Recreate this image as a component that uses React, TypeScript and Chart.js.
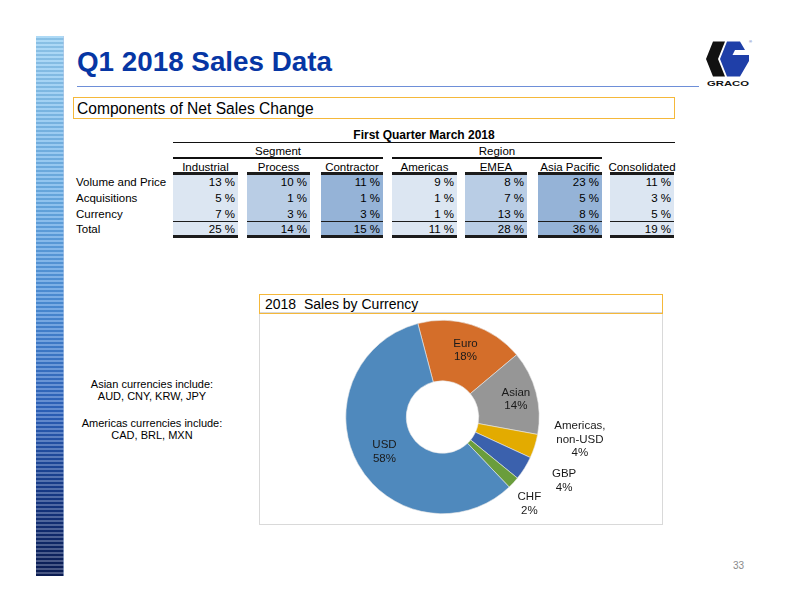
import React, { useEffect, useRef } from "react";
import { Chart, registerables } from "chart.js";

Chart.register(...registerables);

// ---------- Data ----------
const tableTitle = "First Quarter March 2018";
const groupLabels = ["Segment", "Region"];
const columnLabels = ["Industrial", "Process", "Contractor", "Americas", "EMEA", "Asia Pacific", "Consolidated"];
const rowLabels = ["Volume and Price", "Acquisitions", "Currency", "Total"];
const industrial = [13, 5, 7, 25];
const processVals = [10, 1, 3, 14];
const contractor = [11, 1, 3, 15];
const americas = [9, 1, 1, 11];
const emea = [8, 7, 13, 28];
const asiaPacific = [23, 5, 8, 36];
const consolidated = [11, 3, 5, 19];
const tableColumns = [industrial, processVals, contractor, americas, emea, asiaPacific, consolidated];

const currencies = ["Euro", "Asian", "Americas, non-USD", "GBP", "CHF", "USD"];
const currencyLines = [["Euro"], ["Asian"], ["Americas,", "non-USD"], ["GBP"], ["CHF"], ["USD"]];
const currencyShare = [18, 14, 4, 4, 2, 58];

const notes = [
  ["Asian currencies include:", "AUD, CNY, KRW, JPY"],
  ["Americas currencies include:", "CAD, BRL, MXN"],
];

// ---------- Layout / style ----------
const FONT = "'Liberation Sans', Arial, Helvetica, sans-serif";
const colX: [number, number][] = [
  [173, 238], [247, 310], [321, 383], [392, 457], [465, 527], [538, 602], [610, 674],
];
const shades = ["#dce6f2", "#b9cde5", "#95b3d7", "#dce6f2", "#b9cde5", "#95b3d7", "#dce6f2"];
const rowCenters = [181.5, 197.5, 214, 228.5];
const sliceColors = ["#d46e2a", "#969696", "#e3ab00", "#3b61ad", "#6a9d3c", "#4f89bd"];
// label placement: [angle offset in degrees, radius factor]
const labelPlacement: [number, number][] = [
  [1.4, 0.73], [1.3, 0.78], [-8.3, 1.44], [-4.3, 1.42], [2.2, 1.27], [-1.8, 0.7],
];

const Txt: React.FC<{
  x: number; y: number; w?: number; align?: "left" | "center" | "right";
  size?: number; bold?: boolean; color?: string; children: React.ReactNode; lh?: number;
}> = ({ x, y, w, align = "left", size = 11.5, bold, color = "#000", children, lh = 14 }) => (
  <div
    style={{
      position: "absolute",
      left: x,
      top: y - lh / 2,
      width: w,
      height: lh,
      lineHeight: lh + "px",
      fontSize: size,
      fontWeight: bold ? "bold" : "normal",
      color,
      textAlign: align,
      whiteSpace: "nowrap",
    }}
  >
    {children}
  </div>
);

const Line: React.FC<{ x1: number; x2: number; y: number; t: number; c?: string }> = ({ x1, x2, y, t, c = "#111" }) => (
  <div style={{ position: "absolute", left: x1, top: y - t / 2, width: x2 - x1, height: t, background: c }} />
);

const labelPlugin = {
  id: "sliceLabels",
  afterDatasetsDraw(chart: any) {
    const ctx = chart.ctx;
    const meta = chart.getDatasetMeta(0);
    ctx.save();
    ctx.font = `11.5px ${FONT}`;
    ctx.fillStyle = "#1a1a1a";
    ctx.textAlign = "center";
    ctx.textBaseline = "middle";
    meta.data.forEach((arc: any, i: number) => {
      const p = arc.getProps(["x", "y", "startAngle", "endAngle", "outerRadius"], true);
      const [dA, rf] = labelPlacement[i];
      const a = (p.startAngle + p.endAngle) / 2 + (dA * Math.PI) / 180;
      const r = p.outerRadius * rf;
      const cx = p.x + Math.cos(a) * r;
      const cy = p.y + Math.sin(a) * r;
      const lines = [...currencyLines[i], currencyShare[i] + "%"];
      const lh = 13.3;
      lines.forEach((ln, k) => {
        ctx.fillText(ln, cx, cy + (k - (lines.length - 1) / 2) * lh);
      });
    });
    ctx.restore();
  },
};

const Donut: React.FC = () => {
  const ref = useRef<HTMLCanvasElement>(null);
  useEffect(() => {
    if (!ref.current) return;
    const chart = new Chart(ref.current, {
      type: "doughnut",
      data: {
        labels: currencies,
        datasets: [
          {
            data: currencyShare,
            backgroundColor: sliceColors,
            borderColor: "#e8e8e8",
            borderWidth: 0.6,
          },
        ],
      },
      options: {
        responsive: false,
        animation: false,
        devicePixelRatio: 1,
        rotation: -14.8,
        cutout: "37.5%",
        layout: { padding: { left: 0, right: 36, top: 7, bottom: 10 } },
        plugins: { legend: { display: false }, tooltip: { enabled: false } },
      },
      plugins: [labelPlugin],
    });
    return () => chart.destroy();
  }, []);
  return (
    <canvas ref={ref} width={403} height={211} style={{ position: "absolute", left: 259, top: 313, width: 403, height: 211 }} />
  );
};

const Logo: React.FC = () => (
  <svg style={{ position: "absolute", left: 700, top: 36 }} width={60} height={56} viewBox="700 36 60 56">
    <polygon points="713,41.5 725,41.5 718,59 725,76.5 713,76.5 706,59" fill="#111" />
    <polygon points="727,41.5 740,41.5 745,50 735,50 732.5,55 749,55 749,61 740,76.5 727,76.5 720,59" fill="#1f3fa8" />
    <text x={749} y={43} fontSize={4} fill="#1f3fa8" fontFamily={FONT}>®</text>
    <text x={707} y={86} fontSize={7} fontWeight="bold" fill="#111" fontFamily={FONT} textLength={42} lengthAdjust="spacingAndGlyphs">GRACO</text>
  </svg>
);

export default function App() {
  return (
    <div style={{ position: "absolute", left: 0, top: 0, width: 792, height: 612, background: "#fff", fontFamily: FONT, overflow: "hidden" }}>
      {/* left stripe */}
      <div
        style={{
          position: "absolute", left: 36, top: 36, width: 28, height: 540,
          background:
            "repeating-linear-gradient(to bottom, rgba(255,255,255,0.25) 0px, rgba(255,255,255,0.25) 2px, rgba(0,0,0,0.06) 2px, rgba(0,0,0,0.06) 4px), linear-gradient(to bottom, #93cdf3 0%, #6aaee8 30%, #4c8fdb 50%, #2d63be 70%, #163a8a 85%, #0b1d56 100%)",
          borderRight: "1px solid rgba(180,200,230,0.6)",
          boxSizing: "border-box",
        }}
      />
      {/* title */}
      <div style={{ position: "absolute", left: 77, top: 45, fontSize: 27.8, fontWeight: "bold", color: "#0636a4", lineHeight: "34px", whiteSpace: "nowrap" }}>
        Q1 2018 Sales Data
      </div>
      <Line x1={77} x2={699} y={86.5} t={1.5} c="#6e8fd8" />
      <Logo />
      {/* subtitle box */}
      <div style={{ position: "absolute", left: 73, top: 97, width: 602, height: 22, border: "1.5px solid #f5b83a", boxSizing: "border-box" }} />
      <Txt x={77} y={108.5} size={15.6} lh={20}>Components of Net Sales Change</Txt>

      {/* table */}
      <Txt x={173} y={134.5} w={502} align="center" size={12} bold>{tableTitle}</Txt>
      <Line x1={173} x2={675} y={142.5} t={1.5} />
      <Txt x={173} y={151} w={210} align="center">{groupLabels[0]}</Txt>
      <Txt x={392} y={151} w={210} align="center">{groupLabels[1]}</Txt>
      <Line x1={173} x2={383} y={158} t={1.2} />
      <Line x1={392} x2={602} y={158} t={1.2} />
      {columnLabels.map((c, i) => (
        <Txt key={c} x={colX[i][0] - 6} y={166.5} w={colX[i][1] - colX[i][0] + 12} align="center">{c}</Txt>
      ))}
      {colX.map(([a, b], i) => (
        <div key={"sh" + i} style={{ position: "absolute", left: a, top: 174, width: b - a, height: 62, background: shades[i] }} />
      ))}
      {rowLabels.map((r, k) => (
        <Txt key={r} x={76} y={rowCenters[k]}>{r}</Txt>
      ))}
      {tableColumns.map((col, i) =>
        col.map((v, k) => (
          <Txt key={i + "-" + k} x={colX[i][0]} y={rowCenters[k]} w={colX[i][1] - colX[i][0] - 3} align="right">{v} %</Txt>
        ))
      )}
      {colX.map(([a, b], i) => (
        <React.Fragment key={"ln" + i}>
          <Line x1={a} x2={b} y={173.5} t={2.5} c="#1c1c1c" />
          <Line x1={a} x2={b} y={221.5} t={1.2} c="#1c1c1c" />
          <Line x1={a} x2={b} y={236.5} t={2.8} c="#1c1c1c" />
        </React.Fragment>
      ))}

      {/* notes */}
      {notes.map((pair, g) =>
        pair.map((t, k) => (
          <Txt key={g + "-" + k} x={72} y={384 + g * 39.3 + k * 12} w={160} align="center" size={11} lh={13}>{t}</Txt>
        ))
      )}

      {/* chart box */}
      <div style={{ position: "absolute", left: 259, top: 312, width: 404, height: 213, border: "1px solid #d9d9d9", boxSizing: "border-box" }} />
      <div style={{ position: "absolute", left: 259, top: 294, width: 404, height: 19.5, border: "1.5px solid #f5b83a", boxSizing: "border-box" }} />
      <Txt x={265} y={303.5} size={14} lh={18}>2018&nbsp; Sales by Currency</Txt>
      <Donut />

      <Txt x={733} y={566} size={10} color="#8a8a8a" lh={12}>33</Txt>
    </div>
  );
}
